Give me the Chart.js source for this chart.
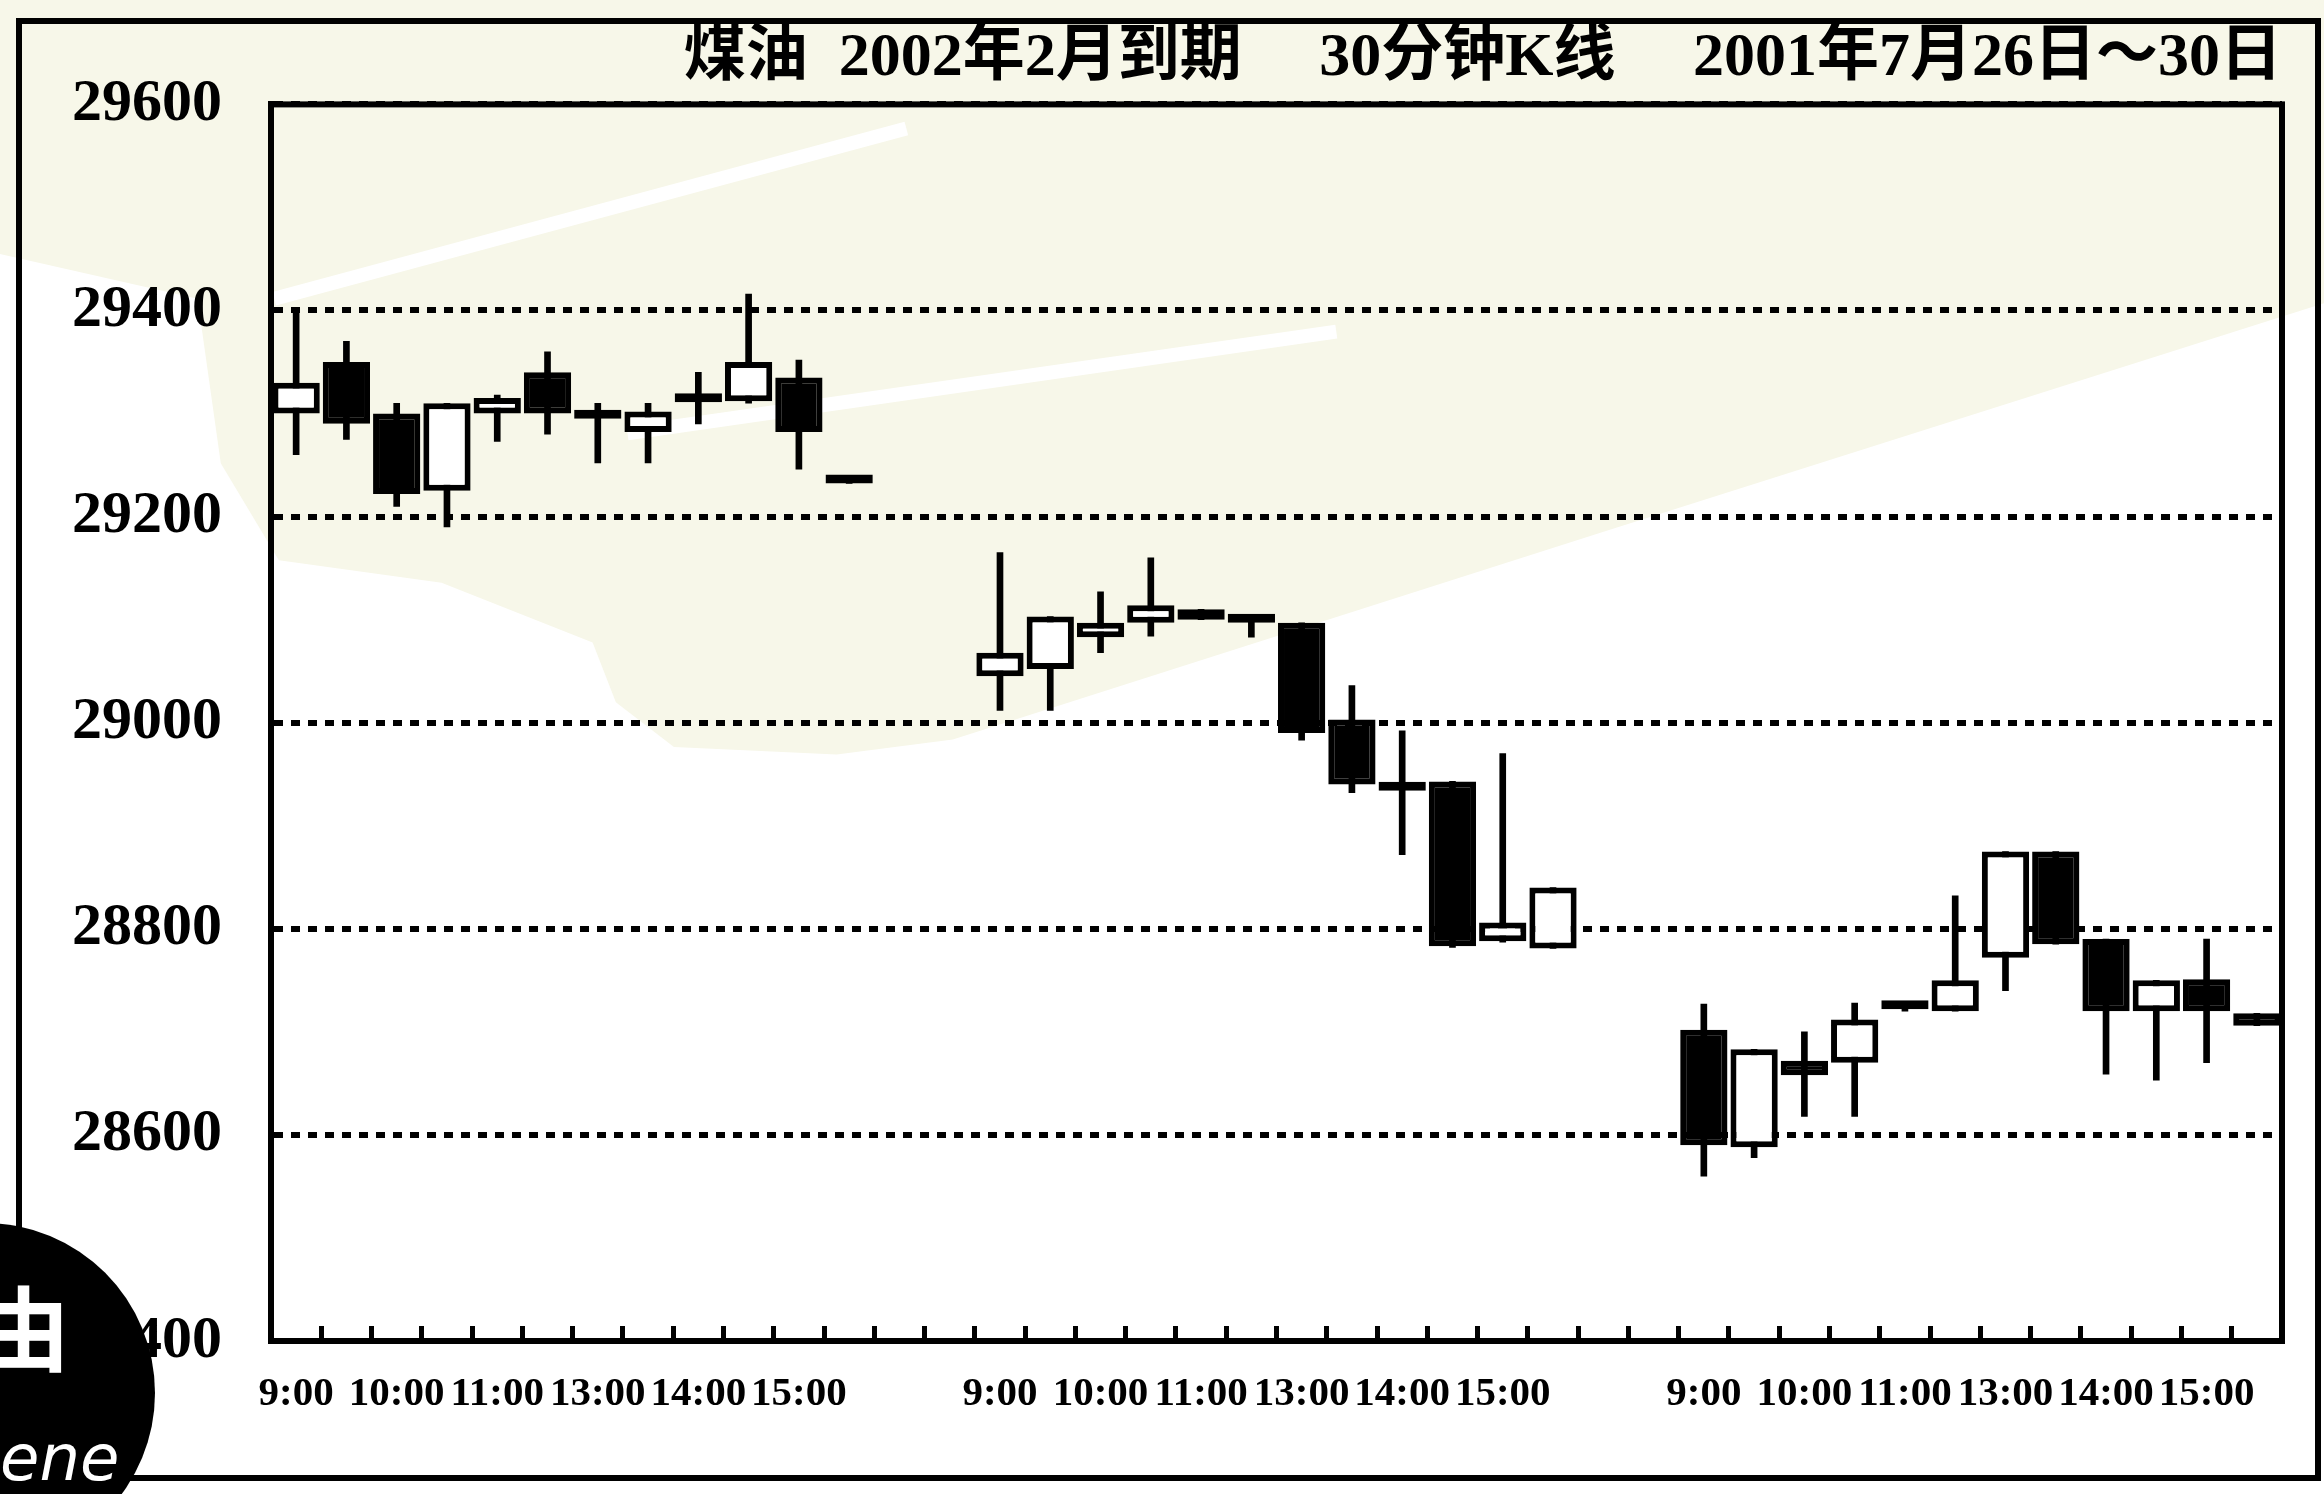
<!DOCTYPE html>
<html>
<head>
<meta charset="utf-8">
<title>煤油 30分钟K线</title>
<script src="https://cdn.jsdelivr.net/npm/chart.js@4.4.1/dist/chart.umd.min.js"></script>
<style>
    html, body { margin: 0; padding: 0; background: #fff; }
    #box { width: 2324px; height: 1494px; }
</style>
</head>
<body>
<div id="box"><canvas id="kChart"></canvas></div>
<script>
// trading days and 30 minute bars per day
var days = ['7/26', '7/27', '7/30'];
var times = ['9:00', '9:30', '10:00', '10:30', '11:00', '11:30', '13:00', '13:30', '14:00', '14:30', '15:00', '15:30'];
var gapSlots = 2;

var openPrices = [
    29300, 29350, 29300, 29225, 29300, 29340, 29295, 29282, 29311, 29312, 29335, 29232,
    29045, 29052, 29083, 29097, 29110, 29102, 29097, 29003, 28940, 28943, 28788, 28781,
    28702, 28588, 28672, 28670, 28728, 28720, 28772, 28875, 28790, 28720, 28751, 28718
];
var highPrices = [
    29400, 29370, 29310, 29310, 29318, 29360, 29310, 29310, 29340, 29416, 29352, 29232,
    29165, 29103, 29127, 29160, 29110, 29102, 29097, 29036, 28992, 28943, 28970, 28840,
    28727, 28683, 28700, 28728, 28728, 28832, 28875, 28875, 28790, 28750, 28790, 28718
];
var lowPrices = [
    29260, 29275, 29210, 29190, 29273, 29280, 29252, 29252, 29290, 29310, 29246, 29232,
    29012, 29012, 29068, 29084, 29100, 29083, 28983, 28932, 28872, 28782, 28787, 28781,
    28560, 28578, 28618, 28618, 28720, 28720, 28740, 28785, 28659, 28653, 28670, 28706
];
var closePrices = [
    29330, 29290, 29222, 29310, 29315, 29300, 29295, 29302, 29311, 29350, 29282, 29232,
    29068, 29103, 29097, 29114, 29100, 29097, 28990, 28940, 28934, 28783, 28806, 28840,
    28590, 28683, 28658, 28712, 28722, 28750, 28875, 28785, 28720, 28750, 28720, 28706
];

var yMin = 28400, yMax = 29600, yStep = 200;
var titleText = '煤油  2002年2月到期     30分钟K线     2001年7月26日～30日';

// build slots: 12 bars per day, two empty slots between days
var slotLabels = [];
var bodyData = [];
var wickData = [];
var bodyColors = [];
var k = 0;
days.forEach(function (day, d) {
    times.forEach(function (t) {
        slotLabels.push(day + ' ' + t);
        bodyData.push([openPrices[k], closePrices[k]]);
        wickData.push([lowPrices[k], highPrices[k]]);
        bodyColors.push(closePrices[k] > openPrices[k] ? '#ffffff' : '#000000');
        k++;
    });
    if (d < days.length - 1) {
        for (var g = 0; g < gapSlots; g++) {
            slotLabels.push('');
            bodyData.push(null);
            wickData.push(null);
            bodyColors.push('#000000');
        }
    }
});

// page decoration of the scan: cream paper watermark, frames, corner logo
var decor = {
    id: 'decor',
    beforeDraw: function (chart) {
        var ctx = chart.ctx, w = chart.width, h = chart.height;
        var path = function (pts) {
            ctx.beginPath();
            pts.forEach(function (p, i) {
                if (i === 0) ctx.moveTo(p[0] * w, p[1] * h); else ctx.lineTo(p[0] * w, p[1] * h);
            });
        };
        ctx.save();
        ctx.fillStyle = '#ffffff';
        ctx.fillRect(0, 0, w, h);
        ctx.fillStyle = '#f7f7e9';
        path([[0, 0], [1, 0], [1, 0.203], [0.69, 0.356], [0.41, 0.495], [0.36, 0.505], [0.29, 0.5],
              [0.265, 0.47], [0.255, 0.43], [0.19, 0.39], [0.12, 0.375], [0.095, 0.31], [0.085, 0.2], [0, 0.17]]);
        ctx.closePath();
        ctx.fill();
        ctx.strokeStyle = '#ffffff';
        ctx.lineWidth = 14;
        path([[0.118, 0.2], [0.39, 0.086]]);
        ctx.stroke();
        path([[0.27, 0.29], [0.575, 0.222]]);
        ctx.stroke();
        ctx.restore();
    },
    afterDraw: function (chart) {
        var ctx = chart.ctx, a = chart.chartArea, w = chart.width, h = chart.height;
        ctx.save();
        ctx.strokeStyle = '#000';
        ctx.lineWidth = 6;
        ctx.strokeRect(a.left, a.top, a.right - a.left, a.bottom - a.top);
        ctx.strokeRect(19, 21, w - 25, h - 37);
        ctx.fillStyle = '#000';
        ctx.beginPath();
        ctx.arc(-15, h - 101, 170, 0, Math.PI * 2);
        ctx.fill();
        ctx.fillStyle = '#fff';
        ctx.textAlign = 'center';
        ctx.textBaseline = 'middle';
        ctx.font = 'bold 92px "Noto Sans CJK SC"';
        ctx.fillText('由', 24, h - 165);
        ctx.textAlign = 'left';
        ctx.textBaseline = 'alphabetic';
        ctx.font = 'italic 64px "DejaVu Sans"';
        ctx.fillText('ene', 0, h - 14);
        ctx.restore();
    }
};

var myChart = document.getElementById('kChart');
var kChart = new Chart(myChart, {
    type: 'bar',
    data: {
        labels: slotLabels,
        datasets: [{
            label: 'body',
            data: bodyData,
            backgroundColor: bodyColors,
            borderColor: '#000000',
            borderWidth: 6,
            borderSkipped: false,
            minBarLength: 9,
            grouped: false,
            barPercentage: 0.94,
            categoryPercentage: 1,
            order: 1
        }, {
            label: 'wick',
            data: wickData,
            backgroundColor: '#000000',
            borderWidth: 0,
            grouped: false,
            barThickness: 6,
            order: 2
        }]
    },
    options: {
        responsive: true,
        maintainAspectRatio: false,
        animation: false,
        layout: { padding: { left: 0, right: 42, top: 0, bottom: 0 } },
        plugins: {
            legend: { display: false },
            tooltip: { enabled: false },
            title: {
                display: true,
                text: titleText,
                align: 'end',
                color: '#000',
                font: { family: '"Liberation Serif", "Noto Sans CJK SC"', size: 62, weight: 'bold', lineHeight: 1.2 },
                padding: { top: 22, bottom: 8 }
            }
        },
        scales: {
            x: {
                type: 'category',
                offset: true,
                grid: { display: true, offset: true, drawOnChartArea: false, drawTicks: true, tickLength: -15, color: '#000', lineWidth: 5 },
                border: { display: true, color: '#000', width: 6 },
                ticks: {
                    autoSkip: false,
                    maxRotation: 0,
                    padding: 44,
                    color: '#000',
                    font: { family: '"Liberation Serif"', size: 41, weight: 'bold' },
                    callback: function (value) {
                        var t = this.getLabelForValue(value).split(' ')[1];
                        return t && t.slice(-3) === ':00' ? t : '';
                    }
                },
                afterFit: function (s) { s.height = 153; }
            },
            y: {
                min: yMin,
                max: yMax,
                grid: { color: '#000', lineWidth: 6, drawTicks: false },
                border: { display: true, color: '#000', width: 6, dash: [9, 8] },
                ticks: {
                    stepSize: yStep,
                    padding: 49,
                    color: '#000',
                    font: { family: '"Liberation Serif"', size: 60, weight: 'bold' },
                    callback: function (value) { return String(value); }
                },
                afterFit: function (s) { s.width = 271; }
            }
        }
    },
    plugins: [decor]
});
</script>
</body>
</html>
